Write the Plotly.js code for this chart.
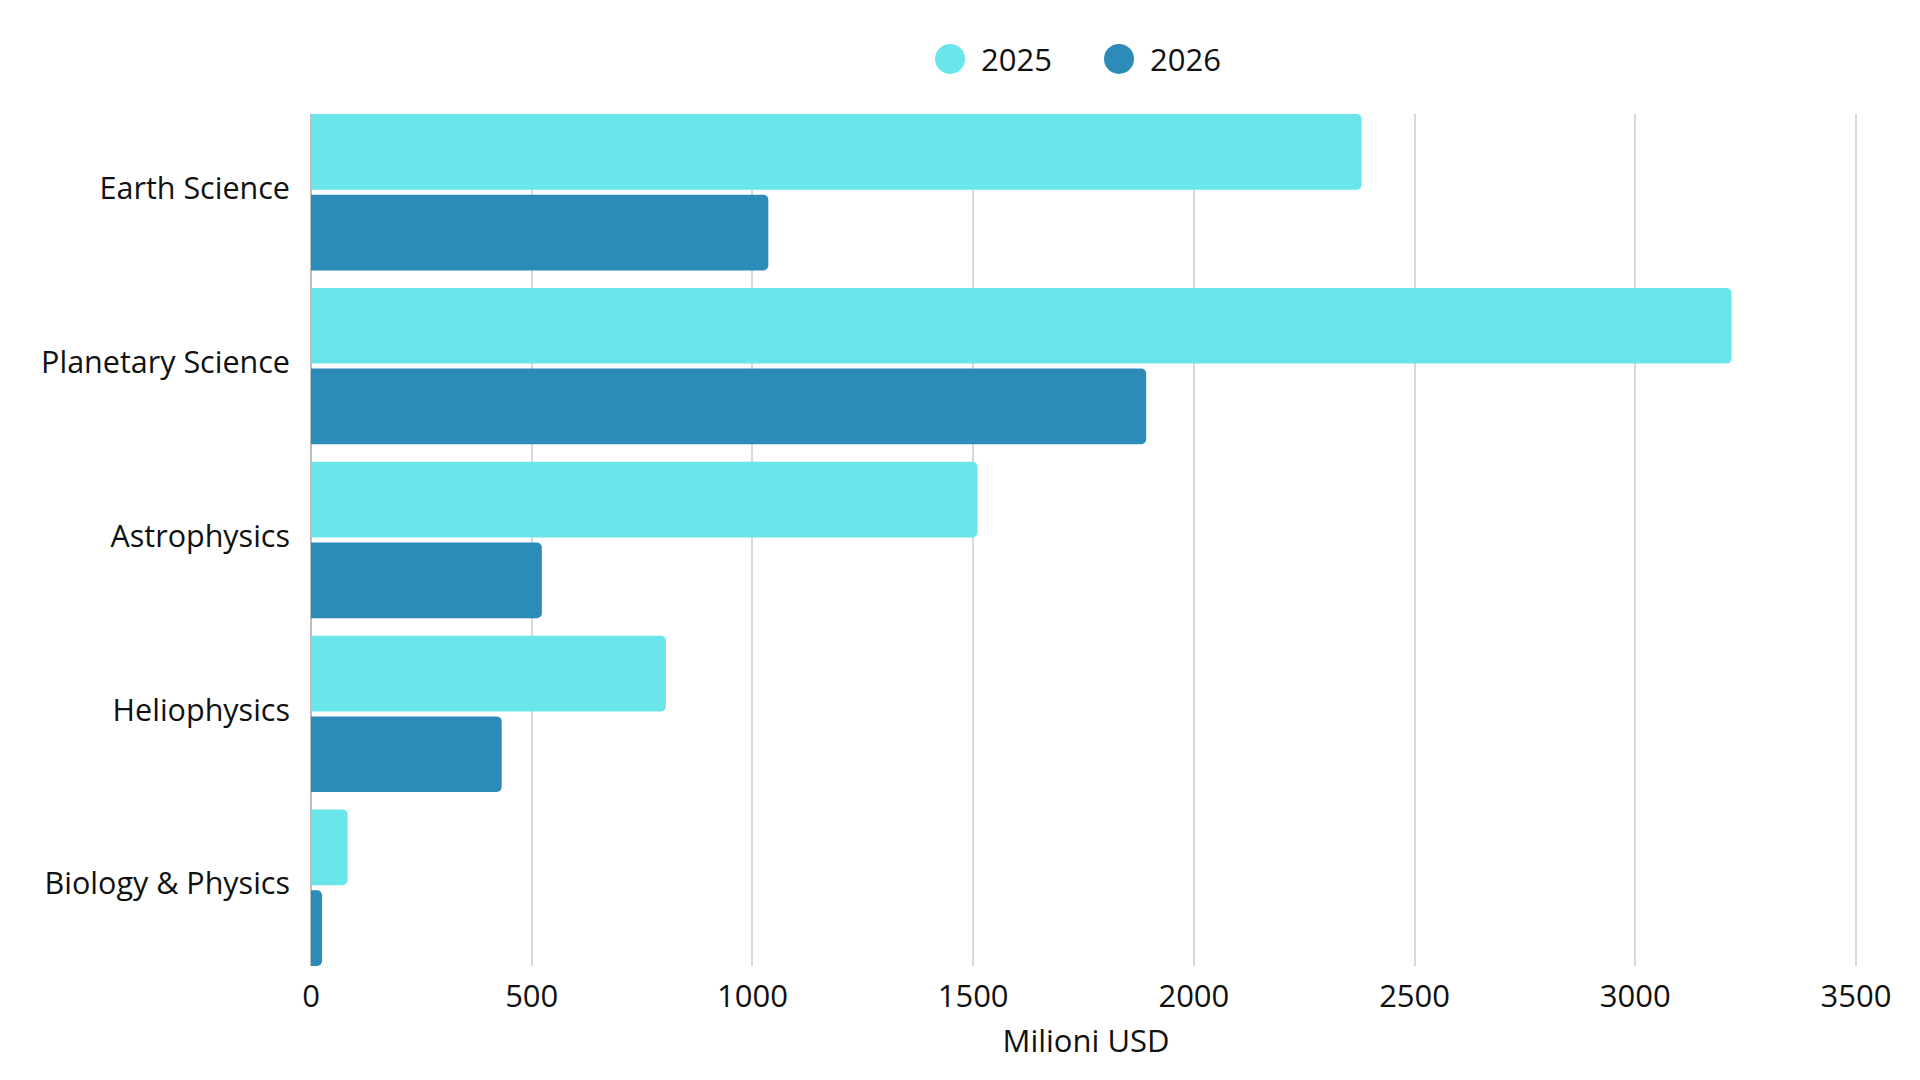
<!DOCTYPE html>
<html>
<head>
<meta charset="utf-8">
<script src="https://cdn.plot.ly/plotly-3.0.1.min.js"></script>
<style>html,body{margin:0;padding:0;background:#fff;}#chart{width:1920px;height:1080px;}</style>
</head>
<body>
<div id="chart"></div>
<script>
const categories = ['Earth Science', 'Planetary Science', 'Astrophysics', 'Heliophysics', 'Biology & Physics'];
const seriesNames = ['2025', '2026'];
const values2025 = [2380, 3218, 1510, 804, 83];
const values2026 = [1036, 1892, 523, 432, 25];
const xTicks = [0, 500, 1000, 1500, 2000, 2500, 3000, 3500];
const colors = ['#6ae5e9', '#2d8bba'];

const font = {family: '"Open Sans", "Noto Sans", sans-serif', size: 31, color: '#111111'};
const catFont = Object.assign({}, font, {size: 30.5});

const traces = [
  {type: 'bar', orientation: 'h', name: seriesNames[0], y: categories, x: values2025,
   marker: {color: colors[0]}, hoverinfo: 'x+name'},
  {type: 'bar', orientation: 'h', name: seriesNames[1], y: categories, x: values2026,
   marker: {color: colors[1]}, hoverinfo: 'x+name'}
];

// custom legend with round markers
const legendX = [0.4123, 0.5213];
const legendY = 1.0646;
const shapes = seriesNames.map((n, i) => ({
  type: 'circle', xref: 'paper', yref: 'paper', xsizemode: 'pixel', ysizemode: 'pixel',
  xanchor: legendX[i], yanchor: legendY, x0: -15, x1: 15, y0: -15, y1: 15,
  fillcolor: colors[i], line: {width: 0}
}));
const annotations = seriesNames.map((n, i) => ({
  text: n, xref: 'paper', yref: 'paper', x: legendX[i], y: legendY,
  xanchor: 'left', yanchor: 'middle', xshift: 29, showarrow: false, font: font
}));

const layout = {
  width: 1920, height: 1080,
  margin: {l: 311, r: 59, t: 114, b: 114},
  paper_bgcolor: '#ffffff', plot_bgcolor: '#ffffff',
  font: font,
  barmode: 'group', bargap: 0.072, bargroupgap: 0.062, barcornerradius: 5,
  showlegend: false,
  xaxis: {
    range: [0, 3511.3], tickvals: xTicks, ticktext: xTicks.map(String),
    showgrid: true, gridcolor: '#d9d9d9', gridwidth: 2,
    zeroline: true, zerolinecolor: '#bdbdbd', zerolinewidth: 2,
    showline: false, ticks: '', ticklabelstandoff: 9,
    tickfont: font,
    title: {text: 'Milioni USD', font: font, standoff: 15}
  },
  yaxis: {
    type: 'category', range: [4.45, -0.45],
    showgrid: false, zeroline: false, showline: false, ticks: '',
    ticklabelstandoff: 20, ticklabelshift: 4, tickfont: catFont
  },
  shapes: shapes,
  annotations: annotations
};

Plotly.newPlot('chart', traces, layout, {displayModeBar: false, staticPlot: false});
</script>
</body>
</html>
